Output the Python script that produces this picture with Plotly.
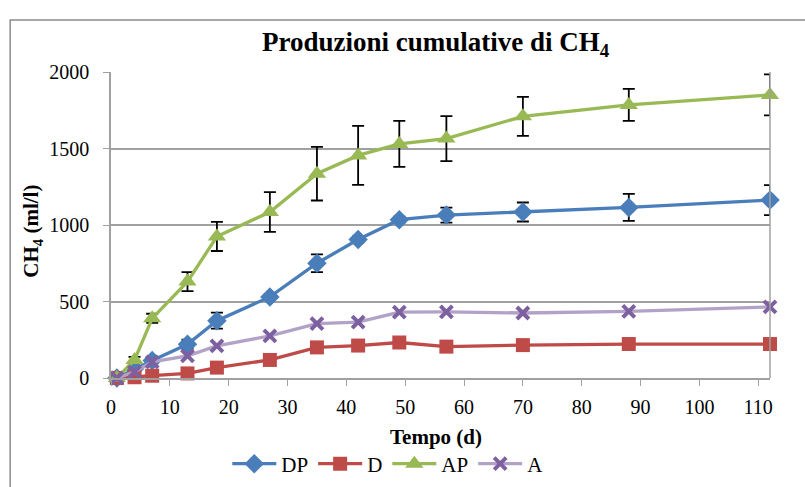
import plotly.graph_objects as go

days = [1, 4, 7, 13, 18, 27, 35, 42, 49, 57, 70, 88, 112]

dp = [0, 60, 115, 220, 375, 530, 750, 905, 1035, 1065, 1085, 1115, 1163]
dp_err = [0, 10, 20, 30, 52, 20, 58, 20, 20, 49, 62, 88, 98]

d = [0, 5, 15, 30, 68, 118, 200, 212, 232, 205, 215, 222, 222]

ap = [0, 118, 390, 630, 925, 1085, 1335, 1455, 1530, 1565, 1710, 1785, 1850]
ap_err = [0, 20, 30, 62, 95, 130, 175, 193, 150, 147, 127, 105, 134]

a = [0, 40, 105, 145, 210, 275, 355, 365, 430, 432, 425, 435, 465]

x_ticks = list(range(0, 111, 10))
y_ticks = [0, 500, 1000, 1500, 2000]

FONT = "Liberation Serif"

fig = go.Figure()

err_style = dict(type="data", visible=True, color="black", thickness=1.8, width=6)

fig.add_trace(go.Scatter(
    x=days, y=dp, name="DP", mode="lines+markers", cliponaxis=False,
    line=dict(color="#4A7EBB", width=3.3),
    marker=dict(symbol="diamond", size=15, color="#4A7EBB"),
    error_y=dict(array=dp_err, **err_style),
))
fig.add_trace(go.Scatter(
    x=days, y=d, name="D", mode="lines+markers", cliponaxis=False,
    line=dict(color="#BE4B48", width=3.3),
    marker=dict(symbol="square", size=14, color="#BE4B48"),
))
fig.add_trace(go.Scatter(
    x=days, y=ap, name="AP", mode="lines+markers", cliponaxis=False,
    line=dict(color="#98B954", width=3.3),
    marker=dict(symbol="triangle-up", size=16, color="#98B954"),
    error_y=dict(array=ap_err, **err_style),
))
fig.add_trace(go.Scatter(
    x=days, y=a, name="A", mode="lines+markers", cliponaxis=False,
    line=dict(color="#B3A2C7", width=3.3),
    marker=dict(symbol="x-thin", size=12, color="#7D60A0",
                line=dict(width=4, color="#7D60A0")),
))

fig.update_layout(
    width=805, height=487,
    margin=dict(l=111, r=35, t=72, b=109, autoexpand=False),
    plot_bgcolor="white", paper_bgcolor="white",
    font=dict(family=FONT, size=20, color="black"),
    showlegend=True,
    legend=dict(orientation="h", x=0.42, y=-0.281, xanchor="center", yanchor="middle",
                font=dict(family=FONT, size=21), itemwidth=44),
)

fig.update_xaxes(
    range=[0, 112], tickvals=x_ticks, showgrid=False,
    showline=True, linecolor="#A0A0A0", linewidth=1.5,
    ticks="outside", ticklen=6, tickcolor="#A0A0A0", mirror=False, zeroline=False,
    tickfont=dict(family=FONT, size=20, color="black"), ticklabelstandoff=4,
)
fig.update_yaxes(
    range=[0, 2000], tickvals=y_ticks, showgrid=True, gridcolor="#A0A0A0", gridwidth=1.5,
    showline=True, linecolor="#A0A0A0", linewidth=1.5,
    ticks="outside", ticklen=6, tickcolor="#A0A0A0", zeroline=False,
    tickfont=dict(family=FONT, size=20, color="black"), ticklabelstandoff=10,
)

# right border of plot area
fig.add_shape(type="line", xref="paper", yref="paper", x0=1, x1=1, y0=0, y1=1,
              line=dict(color="#A0A0A0", width=1.5))
# outer chart border
fig.add_shape(type="rect", xref="paper", yref="paper", x0=-0.153, x1=1.08,
              y0=-0.4, y1=1.17, line=dict(color="#8C8C8C", width=1.5), layer="below")

fig.add_annotation(text="<b>Produzioni cumulative di CH<sub>4</sub></b>", xref="paper", yref="paper",
                   x=0.493, y=1.092, showarrow=False, font=dict(family=FONT, size=27), yanchor="middle")
fig.add_annotation(text="<b>Tempo (d)</b>", xref="paper", yref="paper",
                   x=0.493, y=-0.193, showarrow=False, font=dict(family=FONT, size=21), yanchor="middle")
fig.add_annotation(text="<b>CH<sub>4</sub> (ml/l)</b>", xref="paper", yref="paper",
                   x=-0.119, y=0.48, showarrow=False, textangle=-90, font=dict(family=FONT, size=21),
                   xanchor="center", yanchor="middle")

fig.write_html("out.html")
